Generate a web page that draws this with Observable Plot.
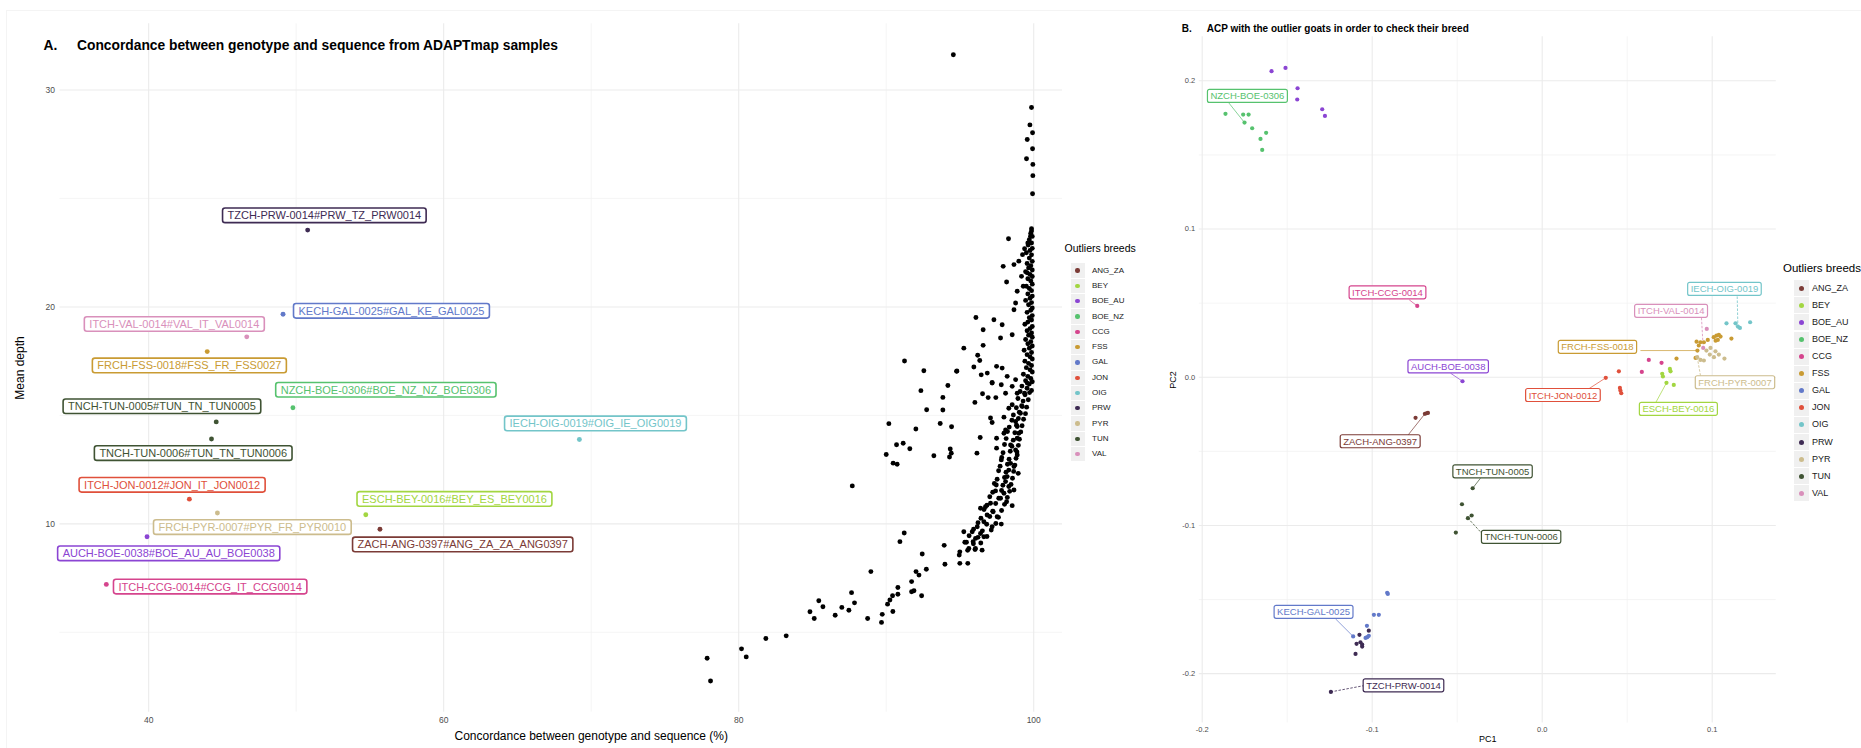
<!DOCTYPE html>
<html><head><meta charset="utf-8">
<script src="https://cdn.jsdelivr.net/npm/d3@7"></script>
<script src="https://cdn.jsdelivr.net/npm/@observablehq/plot@0.6"></script>
<style>
html,body{margin:0;padding:0;background:#fff;}
#root{position:relative;width:1861px;height:748px;overflow:hidden;font-family:"Liberation Sans",Arial,Helvetica,sans-serif;}
.abs{position:absolute;white-space:nowrap;}
.ttl{font-weight:bold;color:#000;}
.key{position:absolute;background:#f0f0f0;}
.dotk{position:absolute;border-radius:50%;}
#frame{position:absolute;left:6px;top:10px;right:0;bottom:0;border-top:1px solid #f4f4f4;border-left:1px solid #f4f4f4;}
</style></head>
<body><div id="root"><div id="frame"></div></div>
<script>
// ---------------- DATA ----------------
const breeds = ["ANG_ZA","BEY","BOE_AU","BOE_NZ","CCG","FSS","GAL","JON","OIG","PRW","PYR","TUN","VAL"];
const breedColors = ["#7b3b36","#a2d641","#8b45d3","#56c26e","#d5448d","#c99b33","#6279c9","#e0503b","#73c5c9","#3e2b53","#ccbc8d","#3f5333","#d990bb"];

// Panel A : samples (concordance %, mean depth)
const sampleConcordanceDepth = [
[94.55,31.62],
[99.85,29.19],[99.74,28.39],[99.92,28.03],[99.56,27.72],[99.92,27.29],[99.51,26.83],[99.94,26.57],[99.94,26.05],[99.92,25.22],
[99.85,23.60],[99.78,23.26],[98.29,23.14],[99.6,22.95],[99.38,22.68],[99.24,22.41],[98.99,22.11],[98.66,21.95],[97.93,21.87],[99.17,21.41],[98.16,21.15],[98.88,20.72],[99.29,20.95],[99.56,21.57],[98.77,20.18],[98.66,19.87],[96.08,19.51],[97.30,19.41],[97.86,19.18],[96.57,18.95],[97.75,18.57],[98.54,18.72],[95.26,18.10],[96.57,18.23],[96.2,17.77],[96.34,17.53],[95.94,17.23],[94.77,17.03],[97.48,17.26],[96.85,16.95],[96.44,16.87],[97.86,17.18],[98.2,16.8],[97.18,16.49],[97.8,16.41],[98.77,16.65],[98.54,16.34],
[91.24,17.51],[92.55,17.06],[94.79,17.05],[92.35,16.14],[94.18,16.38],[93.84,15.83],[92.74,15.26],[93.84,15.25],[96.01,15.6],[96.53,16.0],[96.91,15.82],[97.43,15.82],[97.18,16.52],[97.07,14.88],[90.18,14.62],[92.01,14.37],[93.66,14.63],[94.43,14.48],[90.7,13.65],[91.15,13.72],[91.6,13.46],[90.0,13.2],[90.47,12.8],[90.74,12.75],[93.23,13.14],[94.34,13.45],[94.41,13.26],[94.29,13.08],[96.15,13.26],[96.37,13.98],[97.48,13.49],[97.48,13.95],
[99.56,16.49],[99.38,16.02],[98.09,16.02],[98.88,16.02],[98.54,15.49],[98.31,15.33],[99.22,15.41],[99.1,15.1],[97.18,14.67],[97.98,14.92],[98.77,14.72],[98.88,14.49],[98.09,14.33],[97.98,14.18],[98.99,14.18],[98.88,13.95],[98.43,13.64],[98.77,13.41],[98.88,13.18],[97.8,12.95],[98.43,12.79],[98.66,12.64],[98.31,12.48],[98.95,12.33],[98.2,12.18],[98.09,11.95],[97.46,11.79],[98.31,11.72],[98.66,11.56],[97.41,11.52],[97.98,11.41],[97.75,11.18],[98.16,11.02],[98.54,10.84],[97.07,10.95],[96.39,10.72],[96.73,10.79],[97.25,10.56],[96.84,10.41],[97.52,10.33],[96.62,10.1],[97.18,9.87],[97.8,9.99],[96.17,9.87],[95.83,9.64],[95.26,9.64],[96.39,9.56],[96.62,9.41],[96.05,9.33],[95.44,9.15],[95.89,9.18],[95.6,8.87],[96.05,8.87],[96.5,8.79],[94.99,8.71],[94.95,8.56],[94.99,8.18],[95.53,8.18],
[91.22,9.58],[90.93,9.18],[92.44,8.61],[93.93,9.01],[93.98,8.14],[92.72,7.91],[92.02,7.80],[92.22,7.64],[88.96,7.80],[91.72,7.34],[90.79,7.07],[91.88,6.92],[92.4,6.69],[90.43,6.69],[87.65,6.83],[87.7,11.75],
[91.72,6.87],[90.79,6.76],[90.25,6.49],[90.09,6.3],[90.45,5.96],[89.73,5.83],[89.68,5.46],[88.74,5.64],[87.85,6.36],[87.47,6.02],[86.99,6.15],[86.54,5.79],[85.71,6.18],[85.43,6.46],[84.83,5.95],[85.12,5.64],[83.22,4.84],[81.84,4.72],[80.19,4.24],[80.51,3.87],[77.86,3.81],[78.09,2.76],
[99.85,23.5],[99.8,23.4],[99.9,23.25],[99.7,23.1],[99.85,22.95],[99.62,22.85],[99.9,22.7],[99.75,22.6],[99.5,22.5],[99.85,22.4],[99.7,22.25],[99.9,22.1],[99.55,22.0],[99.8,21.9],[99.65,21.8],[99.9,21.7],[99.45,21.62],[99.75,21.5],[99.9,21.4],[99.6,21.3],[99.8,21.2],[99.9,21.05],[99.5,20.95],[99.7,20.85],[99.85,20.75],[99.6,20.6],[99.9,20.5],[99.75,20.4],[99.45,20.3],[99.85,20.2],[99.65,20.1],[99.9,19.95],[99.8,19.85],[99.55,19.75],[99.9,19.6],[99.7,19.5],[99.85,19.4],[99.6,19.3],[99.4,19.2],[99.9,19.1],[99.75,19.0],[99.55,18.9],[99.85,18.8],[99.65,18.7],[99.9,18.6],[99.45,18.5],[99.8,18.4],[99.6,18.3],[99.9,18.2],[99.7,18.1],[99.35,18.0],[99.85,17.9],[99.55,17.8],[99.75,17.7],[99.9,17.6],[99.4,17.5],[99.65,17.4],[99.85,17.3],[99.5,17.2],[99.75,17.1],[99.9,17.0],[99.3,16.9],[99.6,16.8],[99.8,16.7],[99.45,16.6],[99.9,16.55],[99.7,16.45],[99.2,16.35],[99.55,16.25],[99.85,16.15],
[99.72,16.05],[99.41,15.95],[99.08,16.1],[99.63,15.72],[99.28,15.66],[98.93,15.78],[99.52,15.38],[99.18,15.45],[98.82,15.35],[99.44,15.08],[99.02,15.15],[98.62,15.02],[99.31,14.82],[98.96,14.86],[98.52,14.78],[99.21,14.52],[98.83,14.55],[98.34,14.46],[99.12,14.24],[98.72,14.2],[98.22,14.26],[99.03,13.9],[98.61,13.86],[98.13,13.93],[98.96,13.62],[98.52,13.58],[98.02,13.66],[98.86,13.31],[98.41,13.35],[97.92,13.28],[98.8,13.02],[98.33,12.98],[97.83,13.06],[98.72,12.71],[98.22,12.75],[97.72,12.66],[98.64,12.42],[98.12,12.38],[97.62,12.45],[98.56,12.1],[98.02,12.14],[97.52,12.06],[98.46,11.82],[97.91,11.78],[97.33,11.86],[98.37,11.5],[97.82,11.54],[97.22,11.46],[98.21,11.22],[97.63,11.18],[97.02,11.25],[98.02,10.9],[97.42,10.94],[96.83,10.86],[97.82,10.62],[97.22,10.58],[96.63,10.66],[97.61,10.3],[97.02,10.34],[96.42,10.26],[97.43,10.02],[96.81,9.98],[96.22,10.05],[97.12,9.72],[96.52,9.68],[95.92,9.75],[96.83,9.42],[96.22,9.38],[95.62,9.45],[96.41,9.12],[95.91,9.08],[95.33,9.15],[96.02,8.82],[95.52,8.78]
];

// Panel A : outlier samples
const outlierBreed = ["PRW","GAL","VAL","FSS","BOE_NZ","TUN","TUN","OIG","JON","PYR","BEY","ANG_ZA","BOE_AU","CCG"];
const outlierConcordance = [50.78,49.11,46.65,43.97,49.78,44.58,44.26,69.20,42.76,44.66,54.72,55.68,39.89,37.13];
const outlierDepth = [23.54,19.66,18.62,17.94,15.35,14.70,13.91,13.89,11.14,10.50,10.42,9.75,9.41,7.21];
const outlierLabel = ["TZCH-PRW-0014#PRW_TZ_PRW0014","KECH-GAL-0025#GAL_KE_GAL0025","ITCH-VAL-0014#VAL_IT_VAL0014","FRCH-FSS-0018#FSS_FR_FSS0027","NZCH-BOE-0306#BOE_NZ_NZ_BOE0306","TNCH-TUN-0005#TUN_TN_TUN0005","TNCH-TUN-0006#TUN_TN_TUN0006","IECH-OIG-0019#OIG_IE_OIG0019","ITCH-JON-0012#JON_IT_JON0012","FRCH-PYR-0007#PYR_FR_PYR0010","ESCH-BEY-0016#BEY_ES_BEY0016","ZACH-ANG-0397#ANG_ZA_ZA_ANG0397","AUCH-BOE-0038#BOE_AU_AU_BOE0038","ITCH-CCG-0014#CCG_IT_CCG0014"];
const outlierLabelConcordance = [51.91,56.46,41.74,42.76,56.08,40.90,43.02,70.29,41.59,47.03,60.73,61.29,41.36,44.17];
const outlierLabelDepth = [24.20,19.80,19.19,17.28,16.16,15.40,13.24,14.61,11.78,9.83,11.13,9.03,8.62,7.09];

// Panel B : PCA
const pcaBreed = ["BOE_AU","BOE_AU","BOE_AU","BOE_AU","BOE_AU","BOE_AU","BOE_AU",
 "BOE_NZ","BOE_NZ","BOE_NZ","BOE_NZ","BOE_NZ","BOE_NZ","BOE_NZ","BOE_NZ",
 "CCG","CCG","CCG","CCG",
 "JON","JON","JON","JON","JON",
 "BEY","BEY","BEY","BEY","BEY","BEY",
 "FSS","FSS","FSS","FSS","FSS","FSS","FSS","FSS","FSS","FSS","FSS","FSS","FSS","FSS","FSS",
 "PYR","PYR","PYR","PYR","PYR","PYR","PYR","PYR","PYR","PYR",
 "VAL","VAL",
 "OIG","OIG","OIG","OIG","OIG",
 "ANG_ZA","ANG_ZA","ANG_ZA","ANG_ZA",
 "TUN","TUN","TUN","TUN","TUN",
 "GAL","GAL","GAL","GAL","GAL","GAL","GAL","GAL","GAL",
 "PRW","PRW","PRW","PRW","PRW","PRW","PRW","PRW"];
const pc1 = [-0.1592,-0.151,-0.1439,-0.1441,-0.1294,-0.1278,-0.0469,
 -0.1863,-0.1759,-0.1727,-0.1751,-0.1706,-0.1624,-0.1657,-0.1647,
 -0.0735,0.0627,0.0702,0.0586,
 0.0374,0.0451,0.0457,0.046,0.0465,
 0.0706,0.071,0.0751,0.0755,0.0731,0.0774,
 0.079,0.0908,0.0921,0.0931,0.0974,0.1009,0.1025,0.1039,0.1049,0.102,0.1033,0.1113,0.0902,0.0951,0.0913,
 0.0912,0.0931,0.0966,0.099,0.1019,0.1039,0.0986,0.101,0.1072,0.0951,
 0.0968,0.0947,
 0.1084,0.1137,0.1151,0.1163,0.1223,
 -0.0745,-0.069,-0.068,-0.0672,
 -0.0409,-0.0472,-0.0437,-0.0415,-0.0508,
 -0.0912,-0.0908,-0.099,-0.0961,-0.1031,-0.1112,-0.1029,-0.102,-0.1039,
 -0.1075,-0.102,-0.1092,-0.1069,-0.1059,-0.1059,-0.1098,-0.1243];
const pc2 = [0.2065,0.2087,0.195,0.1874,0.1808,0.1763,-0.0027,
 0.1777,0.1772,0.1772,0.1718,0.168,0.1649,0.1608,0.1534,
 0.0481,0.0117,0.0097,0.0036,
 -0.0004,0.004,-0.0072,-0.009,-0.0108,
 0.0023,0.0005,0.0056,0.004,-0.0038,-0.0052,
 0.0126,0.024,0.0214,0.0236,0.0252,0.027,0.0281,0.0286,0.0274,0.0247,0.0252,0.0261,0.013,0.0236,0.018,
 0.0135,0.0117,0.018,0.0198,0.0175,0.0153,0.0153,0.0135,0.0126,0.0113,
 0.0326,0.0198,
 0.0364,0.0364,0.0342,0.0333,0.0371,
 -0.0274,-0.0247,-0.0243,-0.0241,
 -0.0749,-0.0857,-0.0951,-0.0933,-0.1048,
 -0.1455,-0.1462,-0.1603,-0.1603,-0.1677,-0.1749,-0.1754,-0.1745,-0.1759,
 -0.1738,-0.171,-0.1799,-0.1788,-0.1804,-0.1817,-0.1867,-0.2123];

const pcaLabel = ["NZCH-BOE-0306","ITCH-CCG-0014","AUCH-BOE-0038","FRCH-FSS-0018","ITCH-VAL-0014","IECH-OIG-0019","FRCH-PYR-0007","ESCH-BEY-0016","ITCH-JON-0012","ZACH-ANG-0397","TNCH-TUN-0005","TNCH-TUN-0006","KECH-GAL-0025","TZCH-PRW-0014"];
const pcaLabelBreed = ["BOE_NZ","CCG","BOE_AU","FSS","VAL","OIG","PYR","BEY","JON","ANG_ZA","TUN","TUN","GAL","PRW"];
const pcaLabelPC1 = [-0.1734,-0.0910,-0.0553,0.0325,0.0758,0.1072,0.1134,0.0801,0.0122,-0.0953,-0.0292,-0.0124,-0.1345,-0.0816];
const pcaLabelPC2 = [0.1895,0.0570,0.0070,0.0202,0.0445,0.0593,-0.0037,-0.0217,-0.0123,-0.0435,-0.0638,-0.1080,-0.1586,-0.2082];
const pcaLabelEdgePC1 = [-0.1844,-0.0782,-0.0539,0.0578,0.0937,0.1147,0.0931,0.0666,0.0274,-0.0791,-0.0363,-0.0349,-0.1216,-0.1045];
const pcaLabelEdgePC2 = [0.1852,0.0522,0.0027,0.018,0.0401,0.0545,0.0011,-0.0175,-0.0078,-0.0393,-0.0681,-0.1061,-0.163,-0.208];
const pcaLabelPointPC1 = [-0.1751,-0.0735,-0.0469,0.0913,0.0947,0.1151,0.0912,0.0731,0.0374,-0.069,-0.0409,-0.0437,-0.1112,-0.1243];
const pcaLabelPointPC2 = [0.1718,0.0481,-0.0027,0.018,0.0198,0.0342,0.0135,-0.0038,-0.0004,-0.0247,-0.0749,-0.0951,-0.1749,-0.2123];

const ticksA_x = [40,60,80,100], minorA_x = [50,70,90];
const ticksA_y = [10,20,30], minorA_y = [5,15,25];
const ticksB_x = [-0.2,-0.1,0,0.1], minorB_x = [-0.15,-0.05,0.05];
const ticksB_y = [-0.2,-0.1,0,0.1,0.2], minorB_y = [-0.15,-0.05,0.05,0.15];

// ---------------- STYLE ----------------
const FONT = "'Liberation Sans', Arial, Helvetica, sans-serif";
const dashedSegments = new Set(["ITCH-VAL-0014","IECH-OIG-0019","FRCH-PYR-0007","TNCH-TUN-0006","TZCH-PRW-0014"]);
const root = document.getElementById("root");

// draw the rounded label boxes behind the texts that Plot placed
function boxLabels(svg, labels, padX, padY, rx, sw) {
  const set = new Set(labels);
  const ns = "http://www.w3.org/2000/svg";
  svg.querySelectorAll("text").forEach(t => {
    if (!set.has(t.textContent)) return;
    const b = t.getBBox();
    const col = t.getAttribute("fill") || (t.parentNode && t.parentNode.getAttribute("fill")) || "#000";
    const r = document.createElementNS(ns, "rect");
    r.setAttribute("x", b.x - padX);
    r.setAttribute("y", b.y - padY);
    r.setAttribute("width", b.width + 2 * padX);
    r.setAttribute("height", b.height + 2 * padY);
    r.setAttribute("rx", rx);
    r.setAttribute("fill", "white");
    r.setAttribute("stroke", col);
    r.setAttribute("stroke-width", sw);
    const tr = t.getAttribute("transform");
    if (tr) r.setAttribute("transform", tr);
    t.parentNode.insertBefore(r, t);
  });
}

// ---------------- PANEL A ----------------
const samples = sampleConcordanceDepth.map(([x, y]) => ({x, y}));
const outliers = outlierBreed.map((b, i) => ({breed: b, x: outlierConcordance[i], y: outlierDepth[i], label: outlierLabel[i], lx: outlierLabelConcordance[i], ly: outlierLabelDepth[i]}));

const plotA = Plot.plot({
  width: 1062, height: 748,
  marginTop: 23.3, marginBottom: 36.3, marginLeft: 59.5, marginRight: 0,
  x: {domain: [33.99, 101.95]},
  y: {domain: [1.32, 33.05]},
  color: {domain: breeds, range: breedColors},
  style: {fontFamily: FONT, color: "#4d4d4d", background: "transparent", overflow: "visible"},
  marks: [
    Plot.gridX(minorA_x, {stroke: "#f0f0f0", strokeOpacity: 1, strokeWidth: 0.7}),
    Plot.gridY(minorA_y, {stroke: "#f0f0f0", strokeOpacity: 1, strokeWidth: 0.7}),
    Plot.gridX(ticksA_x, {stroke: "#ebebeb", strokeOpacity: 1, strokeWidth: 1.1}),
    Plot.gridY(ticksA_y, {stroke: "#ebebeb", strokeOpacity: 1, strokeWidth: 1.1}),
    Plot.axisX(ticksA_x, {tickSize: 0, tickPadding: 5, fontSize: 8.5, label: null}),
    Plot.axisY(ticksA_y, {tickSize: 0, tickPadding: 5, fontSize: 8.5, label: null}),
    Plot.text(["Concordance between genotype and sequence (%)"], {text: d => d, frameAnchor: "bottom", lineAnchor: "middle", dy: 23.5, dx: 30, fontSize: 12, fill: "#000"}),
    Plot.text(["Mean depth"], {text: d => d, frameAnchor: "left", textAnchor: "middle", lineAnchor: "middle", rotate: -90, dx: -40, fontSize: 12, fill: "#000"}),
    Plot.dot(samples, {x: "x", y: "y", r: 2.45, fill: "#000"}),
    Plot.dot(outliers, {x: "x", y: "y", r: 2.45, fill: "breed"}),
    Plot.text(outliers, {x: "lx", y: "ly", text: "label", fill: "breed", fontSize: 11})
  ]
});
plotA.style.position = "absolute"; plotA.style.left = "0px"; plotA.style.top = "0px";
root.appendChild(plotA);
boxLabels(plotA, outlierLabel, 5, 1.3, 2.5, 1.6);

// ---------------- PANEL B ----------------
const pca = pcaBreed.map((b, i) => ({breed: b, x: pc1[i], y: pc2[i]}));
const pcaLabels = pcaLabel.map((l, i) => ({label: l, breed: pcaLabelBreed[i], lx: pcaLabelPC1[i], ly: pcaLabelPC2[i], sx: pcaLabelEdgePC1[i], sy: pcaLabelEdgePC2[i], ex: pcaLabelPointPC1[i], ey: pcaLabelPointPC2[i]}));
const fmt = d => d.toFixed(1);

const plotB = Plot.plot({
  width: 691, height: 748,
  marginTop: 36.3, marginBottom: 25.5, marginLeft: 28.8, marginRight: 85.2,
  x: {domain: [-0.2017, 0.1377]},
  y: {domain: [-0.2333, 0.2297]},
  color: {domain: breeds, range: breedColors},
  style: {fontFamily: FONT, color: "#4d4d4d", background: "transparent", overflow: "visible"},
  marks: [
    Plot.gridX(minorB_x, {stroke: "#f0f0f0", strokeOpacity: 1, strokeWidth: 0.7}),
    Plot.gridY(minorB_y, {stroke: "#f0f0f0", strokeOpacity: 1, strokeWidth: 0.7}),
    Plot.gridX(ticksB_x, {stroke: "#ebebeb", strokeOpacity: 1, strokeWidth: 1.1}),
    Plot.gridY(ticksB_y, {stroke: "#ebebeb", strokeOpacity: 1, strokeWidth: 1.1}),
    Plot.axisX(ticksB_x, {tickSize: 0, tickPadding: 4, fontSize: 7.5, label: null, tickFormat: fmt}),
    Plot.axisY(ticksB_y, {tickSize: 0, tickPadding: 4, fontSize: 7.5, label: null, tickFormat: fmt}),
    Plot.text(["PC1"], {text: d => d, frameAnchor: "bottom", lineAnchor: "middle", dy: 16, fontSize: 9, fill: "#000"}),
    Plot.text(["PC2"], {text: d => d, frameAnchor: "left", textAnchor: "middle", lineAnchor: "middle", rotate: -90, dx: -26, fontSize: 9, fill: "#000"}),
    Plot.link(pcaLabels.filter(d => !dashedSegments.has(d.label)), {x1: "sx", y1: "sy", x2: "ex", y2: "ey", stroke: "breed", strokeWidth: 0.7}),
    Plot.link(pcaLabels.filter(d => dashedSegments.has(d.label)), {x1: "sx", y1: "sy", x2: "ex", y2: "ey", stroke: "breed", strokeWidth: 0.8, strokeDasharray: "2.5,1.5"}),
    Plot.dot(pca, {x: "x", y: "y", r: 2.1, fill: "breed"}),
    Plot.text(pcaLabels, {x: "lx", y: "ly", text: "label", fill: "breed", fontSize: 9.5})
  ]
});
plotB.style.position = "absolute"; plotB.style.left = "1170px"; plotB.style.top = "0px";
root.appendChild(plotB);
boxLabels(plotB, pcaLabel, 3, 1, 2, 1.2);

// ---------------- TITLES ----------------
function addText(txt, left, centerY, size, cls, extra) {
  const d = document.createElement("div");
  d.className = "abs " + (cls || "");
  d.textContent = txt;
  d.style.left = left + "px";
  d.style.fontSize = size + "px";
  d.style.lineHeight = "1";
  d.style.top = (centerY - size * 0.5) + "px";
  if (extra) Object.assign(d.style, extra);
  root.appendChild(d);
  return d;
}
addText("A.", 43.5, 46, 13.8, "ttl");
addText("Concordance between genotype and sequence from ADAPTmap samples", 77, 46, 13.8, "ttl");
addText("B.", 1181.7, 28.5, 10, "ttl");
addText("ACP with the outlier goats in order to check their breed", 1206.7, 28.5, 10, "ttl");

// ---------------- LEGENDS ----------------
function legend(titleX, titleY, titleSize, keyCx, firstY, step, keyW, keyH, labelX, labelSize, dotR) {
  addText("Outliers breeds", titleX, titleY, titleSize, "", {color: "#000"});
  breeds.forEach((b, i) => {
    const cy = firstY + i * step;
    const k = document.createElement("div");
    k.className = "key";
    Object.assign(k.style, {left: (keyCx - keyW / 2) + "px", top: (cy - keyH / 2) + "px", width: keyW + "px", height: keyH + "px"});
    root.appendChild(k);
    const dt = document.createElement("div");
    dt.className = "dotk";
    Object.assign(dt.style, {left: (keyCx - dotR) + "px", top: (cy - dotR) + "px", width: 2 * dotR + "px", height: 2 * dotR + "px", background: breedColors[i]});
    root.appendChild(dt);
    addText(b, labelX, cy, labelSize, "", {color: "#1a1a1a"});
  });
}
legend(1064.6, 248, 10.5, 1077.6, 270.6, 15.3, 14, 14.3, 1092, 8, 2.2);
legend(1783, 268.3, 11.5, 1801.5, 288.3, 17.08, 15, 16, 1812, 9, 2.5);
</script>
</body></html>
